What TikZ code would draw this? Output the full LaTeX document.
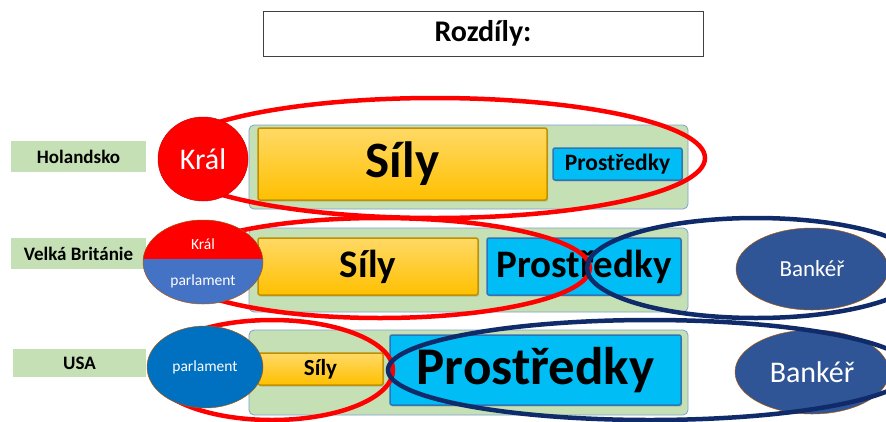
\documentclass[tikz,border=0pt]{standalone}
\usepackage{fontspec}
\setmainfont{Carlito}
\usetikzlibrary{shapes.geometric,shadows}
\definecolor{lgreen}{HTML}{C5E0B4}
\definecolor{panelb}{HTML}{7F9FCF}
\definecolor{ytop}{HTML}{FFD966}
\definecolor{ybot}{HTML}{FFC000}
\definecolor{ydark}{HTML}{BF9000}
\definecolor{cyanf}{HTML}{00BDF5}
\definecolor{cdark}{HTML}{2E75B6}
\definecolor{navy}{HTML}{102B6A}
\definecolor{bankf}{HTML}{2F5597}
\definecolor{kred}{HTML}{FF0000}
\definecolor{pblue}{HTML}{4472C4}
\definecolor{pblue2}{HTML}{0070C0}
\newcommand{\fsz}[1]{\fontsize{#1}{#1}\selectfont}
\begin{document}
\begin{tikzpicture}[x=1pt,y=-1pt,
 lab/.style={draw=white, line width=1.5pt, fill=lgreen, minimum width=137, minimum height=33, font=\fsz{19}\bfseries, inner sep=0,
   drop shadow={shadow xshift=1pt, shadow yshift=-1pt, opacity=0.25}},
 panel/.style={draw=panelb, fill=lgreen, rounded corners=5, line width=0.8, inner sep=0},
 ybox/.style={draw=ydark, line width=1.5, top color=ytop, bottom color=ybot, rounded corners=2, inner sep=0,
   drop shadow={shadow xshift=1pt, shadow yshift=-1.5pt, opacity=0.35}},
 cbox/.style={draw=cdark, line width=1.5, fill=cyanf, rounded corners=2, inner sep=0,
   drop shadow={shadow xshift=1pt, shadow yshift=-1.5pt, opacity=0.35}},
 redring/.style={draw=kred, line width=4.5},
 navyring/.style={draw=navy, line width=4.5},
 oval/.style={ellipse, inner sep=0, text=white},
 bank/.style={oval, fill=bankf, draw=orange!70!black, line width=0.5},
]
\useasboundingbox (0,0) rectangle (886,421);
\fill[white] (0,0) rectangle (886,421);
% title
\node[draw=black!75, line width=0.8, minimum width=440, minimum height=45, inner sep=0, font=\fsz{30}\bfseries] (title) at (483,33.5) {Rozdíly:};
% labels
\node[lab] (hol) at (78.5,156.5) {Holandsko};
\node[lab] (vb) at (78.5,253.5) {Velká Británie};
\node[lab, minimum width=135, minimum height=30] (usa) at (79.5,363) {USA};
% panels
\node[panel, minimum width=439, minimum height=84] (p1) at (468.5,167) {};
\node[panel, minimum width=439, minimum height=84] (p2) at (468.5,270) {};
\node[panel, minimum width=439, minimum height=85] (p3) at (468.5,372.5) {};
% boxes
\node[ybox, minimum width=289, minimum height=72, font=\fsz{51}\bfseries] (s1) at (402.5,164) {Síly};
\node[cbox, minimum width=129, minimum height=32, font=\fsz{23.5}\bfseries] (r1) at (617.5,164) {Prostředky};
\node[ybox, minimum width=220, minimum height=57, font=\fsz{39}\bfseries] (s2) at (368,266.5) {Síly};
\node[cbox, minimum width=194, minimum height=57, font=\fsz{39}\bfseries] (r2) at (584,266.5) {Prostředky};
\node[ybox, minimum width=125, minimum height=32, font=\fsz{23}\bfseries] (s3) at (320.5,369) {Síly};
\node[cbox, minimum width=291, minimum height=70, font=\fsz{53}\bfseries] (r3) at (535.5,370) {Prostředky};
% bankers
\node[bank, minimum width=152, minimum height=82, font=\fsz{23}] (b2) at (812,269) {Bankéř};
\node[bank, minimum width=154, minimum height=84, font=\fsz{30}] (b3) at (812,372) {Bankéř};
% rings
\draw[redring] (435,158) ellipse [x radius=270, y radius=60];
\draw[redring] (380,268) ellipse [x radius=210, y radius=50];
\draw[navyring] (756,268) ellipse [x radius=169, y radius=50];
\draw[redring] (272,370) ellipse [x radius=121, y radius=50];
\draw[navyring] (650,370) ellipse [x radius=262, y radius=50];
% rulers
\node[oval, fill=kred, draw=kred!80!black, line width=0.5, minimum width=90, minimum height=84, font=\fsz{30}] (k1) at (203,159) {Král};
\node[oval, fill=pblue, draw=orange!70!black, line width=0.5, minimum width=120, minimum height=84,
  path picture={\fill[kred] (path picture bounding box.north west) rectangle ([yshift=3pt]path picture bounding box.east);}] (k2) at (203,262) {};
\node[text=white, font=\fsz{15.5}, inner sep=0] (k2a) at (203,244) {Král};
\node[text=white, font=\fsz{15.5}, inner sep=0] (k2b) at (203,281) {parlament};
\node[oval, fill=pblue2, draw=orange!70!black, line width=0.5, minimum width=116, minimum height=82, font=\fsz{15.5}] (k3) at (205,367) {parlament};
\end{tikzpicture}
\end{document}
